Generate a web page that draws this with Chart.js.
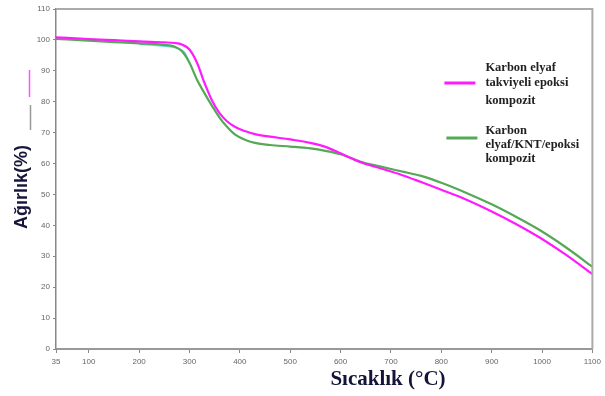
<!DOCTYPE html>
<html>
<head>
<meta charset="utf-8">
<script src="https://cdn.jsdelivr.net/npm/chart.js@4.4.0/dist/chart.umd.min.js"></script>
<style>
    html, body { margin: 0; padding: 0; background: #fff; }
    #kutu { width: 605px; height: 396px; position: relative; }
</style>
</head>
<body>
<div id="kutu"><canvas id="grafikTGA"></canvas></div>
<script>
// ==============================
// Veriler
// ==============================
const sicakliklar = [35, 100, 150, 200, 250, 270, 285, 300, 315, 330, 345, 360, 375, 390, 410, 430, 460, 500,
    540, 570, 600, 640, 680, 720, 760, 800, 850, 900, 950, 1000, 1050, 1100];

const karbonEpoksi = [100.8, 100.3, 99.9, 99.5, 99.2, 99.0, 98.5, 96.9, 92.6, 86.0, 80.3, 76.2, 73.6, 71.9,
    70.5, 69.5, 68.7, 67.8, 66.7, 65.4, 63.3, 60.4, 58.4, 56.4, 54.0, 51.5, 48.3, 44.5, 40.3, 35.6, 30.2, 24.2];

const karbonKNT = [100.3, 99.8, 99.3, 98.9, 98.4, 97.9, 96.3, 92.6, 87.1, 82.7, 78.6, 74.8, 71.8, 69.4,
    67.7, 66.7, 66.0, 65.5, 64.9, 64.1, 63.0, 60.6, 59.0, 57.5, 56.0, 53.8, 50.5, 46.8, 42.6, 38.0, 32.6, 26.6];

// alttaki soluk cyan iz (ham eğri)
const hamSicaklik = [200, 240, 265, 280, 290, 298];
const hamDeger = [98.6, 98.1, 97.7, 97.1, 96.0, 93.6];

const xTikler = [35, 100, 200, 300, 400, 500, 600, 700, 800, 900, 1000, 1100];
const yTikler = [0, 10, 20, 30, 40, 50, 60, 70, 80, 90, 100, 110];

const seriAdlari = [
    ["Karbon elyaf", "takviyeli epoksi", "kompozit"],
    ["Karbon", "elyaf/KNT/epoksi", "kompozit"]
];
const seriRenkleri = ["#ff1aff", "#55a855", "#5fd8e8"];

const eksenX = "Sıcaklık (°C)";
const eksenY = "Ağırlık(%)";

function noktalar(xs, ys) {
    return xs.map((x, i) => ({ x: x, y: ys[i] }));
}

// ==============================
// Çerçeve, eksen başlıkları ve açıklama
// ==============================
const suslemeEklentisi = {
    id: "susleme",
    afterDraw(chart) {
        const ctx = chart.ctx;
        const a = chart.chartArea;
        ctx.save();

        // üst ve sağ çerçeve
        ctx.strokeStyle = "#aaaaaa";
        ctx.lineWidth = 2;
        ctx.beginPath();
        ctx.moveTo(a.left, a.top);
        ctx.lineTo(a.right, a.top);
        ctx.lineTo(a.right, a.bottom);
        ctx.stroke();

        // y ekseni başlığı
        ctx.fillStyle = "#16163c";
        ctx.font = "bold 18px 'Liberation Sans', Arial, sans-serif";
        ctx.textAlign = "center";
        ctx.textBaseline = "middle";
        ctx.translate(22, (a.top + a.bottom) / 2 + 8);
        ctx.rotate(-Math.PI / 2);
        ctx.fillText(eksenY, 0, 0);
        ctx.setTransform(1, 0, 0, 1, 0, 0);

        // x ekseni başlığı
        ctx.fillStyle = "#14143a";
        ctx.font = "bold 21px 'Liberation Serif', 'Times New Roman', serif";
        ctx.fillText(eksenX, a.left + 332, a.bottom + 31);

        // açıklama (legend)
        const legendX = a.right - 148;
        const ornekY = [83, 138];
        const satirY = [[68, 83, 101], [131, 145, 159]];
        ctx.textAlign = "left";
        ctx.font = "bold 12.5px 'Liberation Serif', 'Times New Roman', serif";
        seriAdlari.forEach((satirlar, i) => {
            ctx.strokeStyle = seriRenkleri[i];
            ctx.lineWidth = 3;
            ctx.beginPath();
            ctx.moveTo(legendX + i * 2, ornekY[i]);
            ctx.lineTo(legendX + 31 + i * 2, ornekY[i]);
            ctx.stroke();
            ctx.fillStyle = "#222";
            satirlar.forEach((s, j) => ctx.fillText(s, legendX + 41, satirY[i][j]));
        });

        // sol taraftaki eski açıklama kalıntıları
        ctx.lineWidth = 1.5;
        ctx.strokeStyle = "#ff55ff";
        ctx.beginPath(); ctx.moveTo(29.5, 70); ctx.lineTo(29.5, 97); ctx.stroke();
        ctx.strokeStyle = "#999";
        ctx.beginPath(); ctx.moveTo(30.5, 105); ctx.lineTo(30.5, 130); ctx.stroke();

        ctx.restore();
    }
};

document.addEventListener("DOMContentLoaded", function () {
    const canvas = document.getElementById("grafikTGA");
    const tikFont = { family: "'Liberation Sans', Arial, sans-serif", size: 8 };

    new Chart(canvas.getContext("2d"), {
        type: "line",
        data: {
            datasets: [
                {
                    label: seriAdlari[0].join(" "),
                    data: noktalar(sicakliklar, karbonEpoksi),
                    borderColor: seriRenkleri[0],
                    borderWidth: 2.2,
                    pointRadius: 0,
                    cubicInterpolationMode: "monotone"
                },
                {
                    label: seriAdlari[1].join(" "),
                    data: noktalar(sicakliklar, karbonKNT),
                    borderColor: seriRenkleri[1],
                    borderWidth: 2.2,
                    pointRadius: 0,
                    cubicInterpolationMode: "monotone"
                },
                {
                    label: "ham",
                    data: noktalar(hamSicaklik, hamDeger),
                    borderColor: seriRenkleri[2],
                    borderWidth: 1.5,
                    pointRadius: 0,
                    cubicInterpolationMode: "monotone"
                }
            ]
        },
        options: {
            responsive: true,
            maintainAspectRatio: false,
            animation: false,
            layout: { padding: { top: 9, right: 11, left: 0, bottom: 0 } },
            plugins: {
                legend: { display: false },
                tooltip: { enabled: false }
            },
            scales: {
                x: {
                    type: "linear",
                    min: 35,
                    max: 1100,
                    afterBuildTicks: s => { s.ticks = xTikler.map(v => ({ value: v })); },
                    afterFit: s => { s.height = 47; },
                    ticks: {
                        font: tikFont, color: "#666", padding: 4, maxRotation: 0, autoSkip: false,
                        callback: v => String(v)
                    },
                    grid: { drawOnChartArea: false, drawTicks: true, tickLength: 4, color: "#888" },
                    border: { color: "#999", width: 2 }
                },
                y: {
                    min: 0,
                    max: 110,
                    afterBuildTicks: s => { s.ticks = yTikler.map(v => ({ value: v })); },
                    afterFit: s => { s.width = 56; },
                    ticks: { font: tikFont, color: "#666", padding: 3, callback: v => String(v) },
                    grid: { drawOnChartArea: false, drawTicks: true, tickLength: 3, color: "#888" },
                    border: { color: "#888", width: 1.5 }
                }
            }
        },
        plugins: [suslemeEklentisi]
    });
});
</script>
</body>
</html>
